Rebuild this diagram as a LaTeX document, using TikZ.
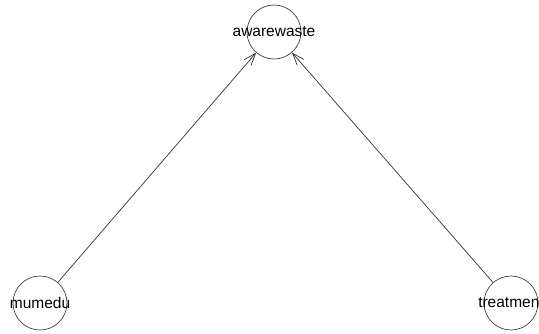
\documentclass[tikz,border=0pt]{standalone}
\usepackage{fontspec}
\setmainfont{Liberation Sans}
\usetikzlibrary{arrows.meta}

\begin{document}
\begin{tikzpicture}[x=1pt, y=-1pt, >={Straight Barb[length=12pt, width=9pt]},
	   font=\fontsize{15.5}{16}\selectfont, line width=0.7pt,
	   v/.style={draw=black!75, circle, inner sep=0pt, minimum size=54pt}]
	  \useasboundingbox (0,0) rectangle (539,333);
	  \node[v, label=center:awarewaste] (awarewaste) at (274,32) {};
	  \node[v, label=center:mumedu] (mumedu) at (40,303) {};
	  \node[v, label=center:treatment] (treatment) at (511,303) {};
	  \draw[->, black!80] (mumedu)--(awarewaste);
	  \draw[->, black!80] (treatment)--(awarewaste);
	\end{tikzpicture}
\end{document}
